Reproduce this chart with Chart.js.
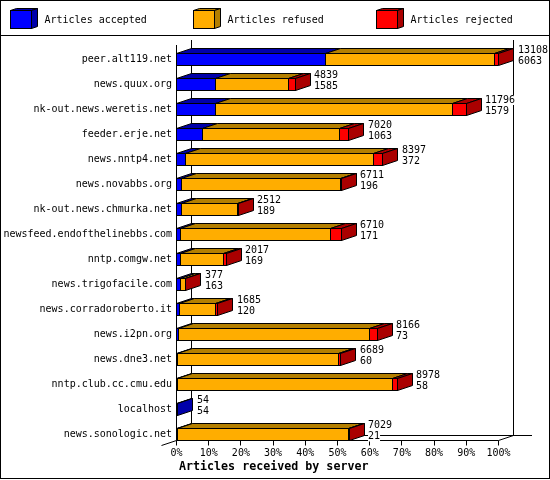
<!DOCTYPE html>
<html>
<head>
<meta charset="utf-8">
<title>Articles received by server</title>
<script src="https://cdn.jsdelivr.net/npm/chart.js@4"></script>
<style>
    html, body { margin: 0; padding: 0; background: #fff; }
    canvas { display: block; }
</style>
</head>
<body>
<canvas id="chart" width="550" height="480"></canvas>
<script>
// Data
const servers = ['peer.alt119.net', 'news.quux.org', 'nk-out.news.weretis.net', 'feeder.erje.net',
    'news.nntp4.net', 'news.novabbs.org', 'nk-out.news.chmurka.net', 'newsfeed.endofthelinebbs.com',
    'nntp.comgw.net', 'news.trigofacile.com', 'news.corradoroberto.it', 'news.i2pn.org',
    'news.dne3.net', 'nntp.club.cc.cmu.edu', 'localhost', 'news.sonologic.net'];
const totals = [13108, 4839, 11796, 7020, 8397, 6711, 2512, 6710, 2017, 377, 1685, 8166, 6689, 8978, 54, 7029];
const accepted = [6063, 1585, 1579, 1063, 372, 196, 189, 171, 169, 163, 120, 73, 60, 58, 54, 21];
const refused = [6870, 2954, 9672, 5592, 7645, 6485, 2303, 6089, 1728, 199, 1475, 7793, 6539, 8745, 0, 6968];
const rejected = [175, 300, 545, 365, 380, 30, 20, 450, 120, 15, 90, 300, 90, 175, 0, 40];
const xTickLabels = ['0%', '10%', '20%', '30%', '40%', '50%', '60%', '70%', '80%', '90%', '100%'];
const xTitle = 'Articles received by server';
const xMax = 13108;

const seriesNames = ['Articles accepted', 'Articles refused', 'Articles rejected'];
const frontColors = ['#0000ff', '#ffad00', '#ff0000'];
const darkColors = ['#0000aa', '#b47f00', '#aa0000'];

const FONT = '10px "DejaVu Sans Mono"';
const DEPTH_X = 15;
const DEPTH_Y = 5;

function poly(ctx, pts, fill) {
    ctx.beginPath();
    pts.forEach((p, i) => i ? ctx.lineTo(p[0], p[1]) : ctx.moveTo(p[0], p[1]));
    ctx.closePath();
    if (fill) {
        ctx.fillStyle = fill;
        ctx.fill();
    }
    ctx.stroke();
}

function line(ctx, x1, y1, x2, y2) {
    ctx.beginPath();
    ctx.moveTo(x1, y1);
    ctx.lineTo(x2, y2);
    ctx.stroke();
}

// Frame, legend, back walls, axis lines and the 3D faces of the bars
const depthPlugin = {
    id: 'depth',
    beforeDatasetsDraw(chart) {
        const ctx = chart.ctx;
        const xs = chart.scales.x;
        const left = xs.getPixelForValue(0);
        const right = xs.getPixelForValue(xMax);
        const floorY = 435.5;
        const axisY = 440.5;

        ctx.save();
        ctx.strokeStyle = '#000';
        ctx.lineWidth = 1;

        // outer frame and legend separator
        ctx.strokeRect(0.5, 0.5, 549, 478);
        line(ctx, 0, 35.5, 550, 35.5);

        // legend
        ctx.font = FONT;
        ctx.textBaseline = 'middle';
        ctx.textAlign = 'left';
        seriesNames.forEach((name, i) => {
            const x = 10.5 + i * 183;
            const y = 10.5;
            poly(ctx, [[x, y], [x + 6, y - 2], [x + 27, y - 2], [x + 21, y]], darkColors[i]);
            poly(ctx, [[x + 21, y], [x + 27, y - 2], [x + 27, y + 16], [x + 21, y + 18]], darkColors[i]);
            ctx.fillStyle = frontColors[i];
            ctx.fillRect(x, y, 21, 18);
            ctx.strokeRect(x, y, 21, 18);
            ctx.fillStyle = '#000';
            ctx.fillText(name, x + 34, 20);
        });

        // axis title
        ctx.font = 'bold 11.67px "DejaVu Sans Mono"';
        ctx.fillStyle = '#000';
        ctx.fillText(xTitle, 179, 467);

        // back walls and floor
        line(ctx, left + DEPTH_X, 40, left + DEPTH_X, floorY);
        line(ctx, right + DEPTH_X, 40, right + DEPTH_X, floorY);
        line(ctx, left + DEPTH_X, floorY, 532, floorY);

        // front axes
        line(ctx, left, 45, left, axisY);
        line(ctx, left, axisY, right, axisY);
        line(ctx, right, axisY, right + DEPTH_X, floorY);
        line(ctx, left, axisY, left - DEPTH_X, axisY + DEPTH_Y);
        xs.ticks.forEach(t => {
            const px = Math.floor(xs.getPixelForValue(t.value)) + 0.5;
            line(ctx, px, axisY, px, axisY + 5);
        });

        // snap bars to whole pixels so neighbours share their joining line
        const metas = chart.data.datasets.map((d, i) => chart.getDatasetMeta(i));
        metas.forEach(meta => {
            meta.data.forEach(bar => {
                const empty = Math.abs(bar.x - bar.base) < 0.001;
                bar.base = Math.floor(bar.base);
                bar.x = empty ? bar.base : Math.floor(bar.x) + 1;
            });
        });

        // top and side faces
        servers.forEach((s, row) => {
            let lastSeg = -1;
            metas.forEach((meta, i) => {
                const bar = meta.data[row];
                if (bar.x === bar.base) return;
                const l = bar.base + 0.5;
                const r = bar.x - 0.5;
                const top = bar.y - bar.height / 2 + 0.5;
                poly(ctx, [[l, top], [l + DEPTH_X, top - DEPTH_Y], [r + DEPTH_X, top - DEPTH_Y], [r, top]], darkColors[i]);
                lastSeg = i;
            });
            if (lastSeg >= 0) {
                const bar = metas[lastSeg].data[row];
                const r = bar.x - 0.5;
                const top = bar.y - bar.height / 2 + 0.5;
                const bot = bar.y + bar.height / 2 - 0.5;
                poly(ctx, [[r, top], [r + DEPTH_X, top - DEPTH_Y], [r + DEPTH_X, bot - DEPTH_Y], [r, bot]], darkColors[lastSeg]);
            }
        });
        ctx.restore();
    },
    // the two numbers beside each bar, on a white patch
    afterDatasetsDraw(chart) {
        const ctx = chart.ctx;
        const xs = chart.scales.x;
        const ys = chart.scales.y;
        ctx.save();
        ctx.font = FONT;
        ctx.textBaseline = 'middle';
        ctx.textAlign = 'left';
        servers.forEach((s, row) => {
            const x = Math.round(xs.getPixelForValue(totals[row])) + DEPTH_X + 4;
            const y = ys.getPixelForValue(row);
            [[totals[row], y - 9.5], [accepted[row], y + 2]].forEach(([val, ly]) => {
                const txt = String(val);
                ctx.fillStyle = '#fff';
                ctx.fillRect(x, ly - 5, ctx.measureText(txt).width, 10);
                ctx.fillStyle = '#000';
                ctx.fillText(txt, x, ly);
            });
        });
        ctx.restore();
    }
};

const barStyle = { borderColor: '#000', borderWidth: 1, borderSkipped: false, inflateAmount: 0, barThickness: 13 };

new Chart(document.getElementById('chart').getContext('2d'), {
    type: 'bar',
    data: {
        labels: servers,
        datasets: [
            { label: seriesNames[0], data: accepted, backgroundColor: frontColors[0], ...barStyle },
            { label: seriesNames[1], data: refused, backgroundColor: frontColors[1], ...barStyle },
            { label: seriesNames[2], data: rejected, backgroundColor: frontColors[2], ...barStyle }
        ]
    },
    plugins: [depthPlugin],
    options: {
        indexAxis: 'y',
        responsive: false,
        animation: false,
        events: [],
        layout: { padding: { left: 0, top: 47, right: 51.5, bottom: 0 } },
        plugins: { legend: { display: false }, tooltip: { enabled: false } },
        scales: {
            x: {
                stacked: true,
                min: 0,
                max: xMax,
                grid: { display: false, drawTicks: false },
                border: { display: false },
                ticks: {
                    stepSize: xMax / 10,
                    autoSkip: false,
                    maxRotation: 0,
                    padding: 0,
                    color: '#000',
                    font: { family: 'DejaVu Sans Mono', size: 10 },
                    callback: (v, i) => xTickLabels[i]
                },
                afterFit: scale => { scale.height = 33; }
            },
            y: {
                stacked: true,
                grid: { display: false, drawTicks: false },
                border: { display: false },
                ticks: {
                    autoSkip: false,
                    padding: 4.5,
                    color: '#000',
                    font: { family: 'DejaVu Sans Mono', size: 10 }
                },
                afterFit: scale => { scale.width = 176.5; }
            }
        }
    }
});
</script>
</body>
</html>
